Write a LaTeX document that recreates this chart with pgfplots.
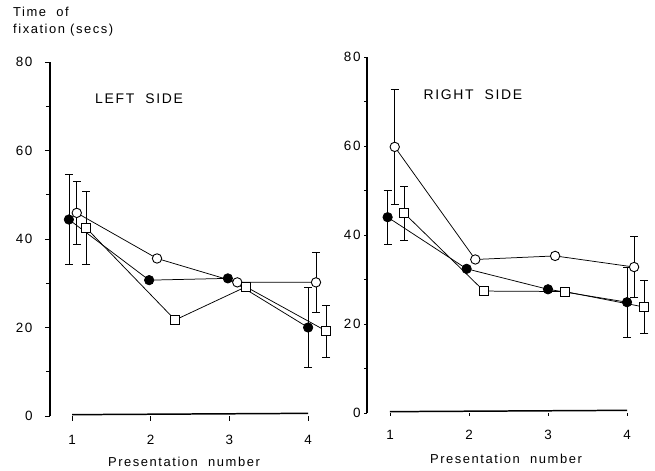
\documentclass[border=0pt]{standalone}
\usepackage{pgfplots}
\usepackage{pgfplotstable}
\pgfplotsset{compat=1.18}
\usepackage{fontspec}
\setmainfont{Liberation Sans}[LetterSpace=12]

\pgfplotstableread{
x y e
0.96 44.4 10.1
1.98 30.7 0
2.98 31.1 0
4.00 20.0 9.0
}\LF
\pgfplotstableread{
x y e
1.06 45.9 7.2
2.08 35.6 0
3.10 30.2 0
4.10 30.2 6.7
}\LO
\pgfplotstableread{
x y e
1.18 42.5 8.2
2.31 21.7 0
3.21 29.2 0
4.23 19.2 5.9
}\LS
\pgfplotstableread{
x y e
0.97 44.0 6.1
1.97 32.4 0
3.00 27.8 0
4.00 24.9 7.9
}\RF
\pgfplotstableread{
x y e
1.06 59.8 12.9
2.08 34.5 0
3.09 35.3 0
4.09 32.8 6.9
}\RO
\pgfplotstableread{
x y e
1.18 44.9 6.0
2.19 27.4 0
3.21 27.3 0
4.22 23.8 5.9
}\RS

\pgfplotsset{
  panel/.style={
    scale only axis,
    ymin=0, ymax=80,
    ytick={0,20,40,60,80},
    minor ytick={10,30,50,70},
    xtick={1,2,3,4},
    axis lines*=left,
    axis line style={-},
    x axis line style={draw=none},
    y axis line style={line width=1.2pt},
    tick align=outside,
    tick style={black, line width=0.9pt},
    major tick length=5bp,
    minor tick length=4bp,
    clip=false,
    /pgf/number format/assume math mode=true,
    ticklabel style={font=\fontsize{13.5}{15}\selectfont},
    xticklabel style={yshift=-11bp},
  },
  ebar/.style={only marks, mark=none, black, forget plot,
    skip coords between index={1}{3},
    error bars/.cd, y dir=both, y explicit,
    error bar style={black, line width=0.75pt},
    error mark options={rotate=90, mark size=4bp, line width=0.75pt, black}},
  sF/.style={black, line width=0.75pt, mark=*, mark size=4.7bp, mark options={fill=black, solid}},
  sO/.style={black, line width=0.75pt, mark=*, mark size=4.7bp, mark options={fill=white, solid, line width=0.9pt}},
  sS/.style={black, line width=0.75pt, mark=square*, mark size=4.5bp, mark options={fill=white, solid, line width=0.9pt}},
}

\begin{document}
\begin{tikzpicture}
\useasboundingbox (0,0) rectangle (655bp,471bp);

\begin{axis}[panel, at={(50bp,55bp)}, anchor=south west,
  width=289.6bp, height=354bp, xmin=0.72, xmax=4.4,
  yticklabel style={xshift=-9bp}]
  \addplot[ebar] table[x=x, y=y, y error=e] {\LF};
  \addplot[ebar] table[x=x, y=y, y error=e] {\LO};
  \addplot[ebar] table[x=x, y=y, y error=e] {\LS};
  \addplot[sF] table[x=x, y=y] {\LF};
  \addplot[sO] table[x=x, y=y] {\LO};
  \addplot[sS] table[x=x, y=y] {\LS};
  \draw[line width=1.5pt] (axis cs:1,0.3) -- (axis cs:4,0.6);
  \node[anchor=west, font=\fontsize{14}{16}\selectfont] at (axis cs:1.25,71.8) {LEFT\ \ SIDE};
\end{axis}

\begin{axis}[panel, at={(367bp,58bp)}, anchor=south west,
  width=291.6bp, height=356bp, xmin=0.709, xmax=4.4,
  major tick length=3bp, minor tick length=3bp]
  \addplot[ebar] table[x=x, y=y, y error=e] {\RF};
  \addplot[ebar] table[x=x, y=y, y error=e] {\RO};
  \addplot[ebar] table[x=x, y=y, y error=e] {\RS};
  \addplot[sF] table[x=x, y=y] {\RF};
  \addplot[sO] table[x=x, y=y] {\RO};
  \addplot[sS] table[x=x, y=y] {\RS};
  \draw[line width=1.5pt] (axis cs:1,0.3) -- (axis cs:4,0.6);
  \node[anchor=west, font=\fontsize{14}{16}\selectfont] at (axis cs:1.38,71.5) {RIGHT\ \ SIDE};
\end{axis}

\node[anchor=north west, align=left, font=\fontsize{13}{17}\selectfont, inner sep=0pt] at (13bp,464bp) {Time\ \ of\\fixation (secs)};
\node[font=\fontsize{13}{14}\selectfont] at (184bp,9bp) {Presentation\ \ number};
\node[font=\fontsize{13}{14}\selectfont] at (506bp,12bp) {Presentation\ \ number};
\end{tikzpicture}
\end{document}
